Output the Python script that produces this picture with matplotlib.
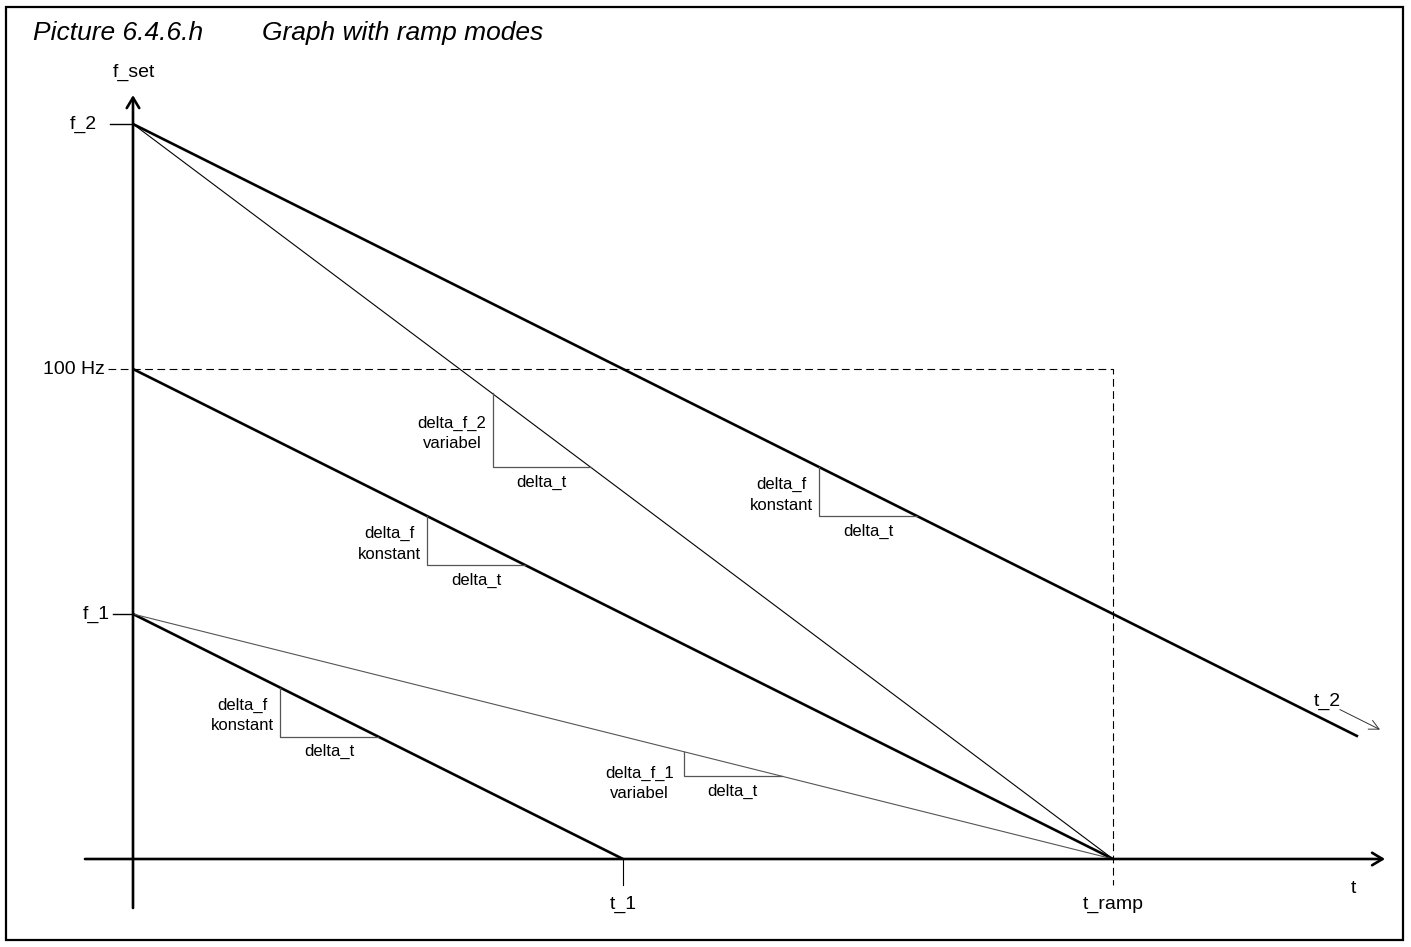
import matplotlib
matplotlib.use("Agg")
import matplotlib.pyplot as plt
from matplotlib.patches import Rectangle

plt.rcParams["font.family"] = ["Liberation Sans", "DejaVu Sans"]

# --- data: time in units of t_ramp, frequency in Hz ---
T_1 = 0.5
T_RAMP = 1.0
T_2_END = 1.25
F_1 = 50
F_100 = 100
F_2 = 150
F_T2_END = 25

# ramp lines: (t_start, f_start, t_end, f_end, kind)
RAMP_T0 = [0, 0, 0, 0, 0]
RAMP_F0 = [F_2, F_2, F_100, F_1, F_1]
RAMP_T1 = [T_2_END, T_RAMP, T_RAMP, T_1, T_RAMP]
RAMP_F1 = [F_T2_END, 0, 0, 0, 0]
RAMP_KIND = ["thick", "thin", "thick", "thick", "grey"]

# slope triangles: t_left, t_right, f_top, f_bottom, label
TRI_T0 = [0.15, 0.30, 0.70, 0.367, 0.562]
TRI_T1 = [0.25, 0.40, 0.80, 0.467, 0.662]
TRI_FTOP = [35, 70, 80, 95, 21.9]
TRI_FBOT = [25, 60, 70, 80, 16.9]
TRI_LABEL = ["delta_f\nkonstant", "delta_f\nkonstant", "delta_f\nkonstant",
             "delta_f_2\nvariabel", "delta_f_1\nvariabel"]

W, H = 1411, 947
PX_T = 980.0      # pixels per t_ramp
PX_F = 4.9        # pixels per Hz
X0, Y0 = 133, 859  # origin pixel

fig = plt.figure(figsize=(W / 100, H / 100), dpi=100)
ax = fig.add_axes([0, 0, 1, 1])
ax.set_xlim(-X0 / PX_T, (W - X0) / PX_T)
ax.set_ylim((Y0 - H) / PX_F, Y0 / PX_F)
ax.axis("off")

STYLE = {
    "thick": dict(color="black", lw=1.9),
    "thin": dict(color="black", lw=0.8),
    "grey": dict(color="#555555", lw=0.8),
}

# axes with open arrowheads
arrow_kw = dict(arrowstyle="->,head_length=0.75,head_width=0.45", lw=1.9,
                color="black", shrinkA=0, shrinkB=0)
ax.annotate("", xy=(1.2776, 0), xytext=(-0.049, 0), arrowprops=arrow_kw)
ax.annotate("", xy=(0, 155.9), xytext=(0, -10), arrowprops=arrow_kw)

# ramp lines
for t0, f0, t1, f1, k in zip(RAMP_T0, RAMP_F0, RAMP_T1, RAMP_F1, RAMP_KIND):
    ax.plot([t0, t1], [f0, f1], solid_capstyle="butt", **STYLE[k])

# 100 Hz dashed guide
ax.plot([-0.0255, T_RAMP, T_RAMP], [F_100, F_100, -5.3], color="black",
        lw=0.8, dashes=(7, 4))

# ticks
ax.plot([-0.0235, 0], [F_2, F_2], color="black", lw=1.0)
ax.plot([-0.0205, 0], [F_1, F_1], color="black", lw=1.0)
ax.plot([T_1, T_1], [0, -5.3], color="black", lw=0.8)

# slope triangles
for t0, t1, ft, fb, lab in zip(TRI_T0, TRI_T1, TRI_FTOP, TRI_FBOT, TRI_LABEL):
    ax.plot([t0, t0, t1], [ft, fb, fb], color="#555555", lw=0.9)
    if lab.startswith("delta_f_1"):
        # this label hangs below the corner
        ax.annotate(lab, xy=(t0, fb), xytext=(-7, -5), textcoords="offset points",
                    ha="right", va="center", multialignment="center",
                    fontsize=12, linespacing=1.45)
    else:
        ax.annotate(lab, xy=(t0, (ft + fb) / 2), xytext=(-4.5, -2.5),
                    textcoords="offset points", ha="right", va="center",
                    multialignment="center", fontsize=12, linespacing=1.45)
    ax.annotate("delta_t", xy=((t0 + t1) / 2, fb), xytext=(0, -11),
                textcoords="offset points", ha="center", va="center", fontsize=12)

# axis labels
lab_kw = dict(fontsize=14, va="center")
ax.annotate("f_set", xy=(0, 155.9), xytext=(1, 16), textcoords="offset points",
            ha="center", **lab_kw)
ax.annotate("f_2", xy=(0, F_2), xytext=(-26, 0), textcoords="offset points",
            ha="right", **lab_kw)
ax.annotate("f_1", xy=(0, F_1), xytext=(-17, 0), textcoords="offset points",
            ha="right", **lab_kw)
ax.annotate("100 Hz", xy=(0, F_100), xytext=(-20, 0), textcoords="offset points",
            ha="right", **lab_kw)
ax.annotate("t_1", xy=(T_1, 0), xytext=(0, -33), textcoords="offset points",
            ha="center", **lab_kw)
ax.annotate("t_ramp", xy=(T_RAMP, 0), xytext=(0, -33), textcoords="offset points",
            ha="center", **lab_kw)
ax.annotate("t", xy=(1.2776, 0), xytext=(-23, -21), textcoords="offset points",
            ha="center", **lab_kw)
ax.annotate("t_2", xy=(T_2_END, F_T2_END), xytext=(-22, 25),
            textcoords="offset points", ha="center", **lab_kw)

# small arrow next to t_2
ax.annotate("", xy=(T_2_END + 0.0225, F_T2_END + 1.4),
            xytext=(T_2_END - 0.0185, F_T2_END + 5.5),
            arrowprops=dict(arrowstyle="->,head_length=0.7,head_width=0.35",
                            lw=0.7, color="#333333", shrinkA=0, shrinkB=0))

# title
fig.text(33 / W, 1 - 33 / H, "Picture 6.4.6.h", fontsize=19, style="italic",
         ha="left", va="center")
fig.text(262 / W, 1 - 33 / H, "Graph with ramp modes", fontsize=19,
         style="italic", ha="left", va="center")

# frame
fig.add_artist(Rectangle((6 / W, 7 / H), (1403 - 6) / W, (940 - 7) / H,
                         transform=fig.transFigure, fill=False, lw=1.6,
                         edgecolor="black"))

fig.savefig("out.png", dpi=100)
